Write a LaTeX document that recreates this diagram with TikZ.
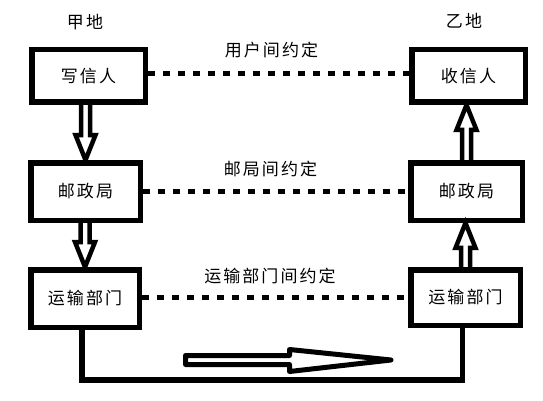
\documentclass[tikz,border=0pt]{standalone}
\usepackage{fontspec}
\newfontfamily\cjk[LetterSpace=12]{Noto Sans CJK SC}
\usetikzlibrary{calc}
\newcommand\vhol[3]{\draw[holarrow] let \p1=(#1), \p2=(#2), \p3=(#3), \p4=($(#2)!25pt!(#1)$) in
  (\x3-4.5pt,\y1) -- (\x3-4.5pt,\y4) -- (\x3-10pt,\y4) -- (\x3,\y2) -- (\x3+10pt,\y4) -- (\x3+4.5pt,\y4) -- (\x3+4.5pt,\y1);}
\begin{document}
\begin{tikzpicture}[x=1pt,y=-1pt,
  font=\cjk\fontsize{17}{20}\selectfont,
  box/.style={draw, line width=5.5pt, inner sep=0pt},
  lbl/.style={inner sep=0pt},
  dots/.style={line width=5pt, dash pattern=on 7pt off 8pt},
  holarrow/.style={draw, line width=4.5pt, line join=miter},
  conn/.style={line width=5.5pt, line join=miter}]
\useasboundingbox[fill=white] (0,0) rectangle (543,401);
% boxes
\node[box, minimum width=113.5pt, minimum height=52.5pt] (l1) at (88.5,76) {写信人};
\node[box, minimum width=109.5pt, minimum height=57.5pt] (l2) at (85.5,191.5) {邮政局};
\node[box, minimum width=108.5pt, minimum height=57.5pt] (l3) at (85,298.5) {运输部门};
\node[box, minimum width=113.5pt, minimum height=52.5pt] (r1) at (468.5,76) {收信人};
\node[box, minimum width=111.5pt, minimum height=57.5pt] (r2) at (466.5,191.5) {邮政局};
\node[box, minimum width=109.5pt, minimum height=55.5pt] (r3) at (465.5,297.5) {运输部门};
% labels
\node[lbl] (jia) at (85,22) {甲地};
\node[lbl] (yi) at (464,21) {乙地};
\node[lbl] (c1) at (271.5,50) {用户间约定};
\node[lbl] (c2) at (270.5,169) {邮局间约定};
\node[lbl] (c3) at (270,276) {运输部门间约定};
% dotted agreements
\coordinate (d1) at ([yshift=2pt]l1.east);
\coordinate (d2) at (l2.east);
\coordinate (d3) at ([yshift=1.5pt]l3.east);
\draw[dots] (d1) -- (d1 -| r1.west);
\draw[dots] (d2) -- (d2 -| r2.west);
\draw[dots] (d3) -- (d3 -| r3.west);
% hollow vertical arrows
\vhol{l1.south}{l2.north}{l2}
\vhol{l2.south}{l3.north}{l3}
\vhol{r3.north}{r2.south}{r3}
\vhol{r2.north}{r1.south}{r2}
% bottom connection
\coordinate (bl) at (0,380);
\coordinate (s1) at ([xshift=-3pt]l3.south);
\coordinate (s2) at ([xshift=-3pt]r3.south);
\draw[conn] (s1) -- (s1 |- bl) -| (s2);
% big hollow arrow
\draw[line width=5pt, line join=round] (185.5,355.5) -- (289.5,355.5) -- (289.5,349.5) -- (391,360) -- (289.5,371.5) -- (289.5,364.5) -- (185.5,364.5) -- cycle;
\end{tikzpicture}
\end{document}
